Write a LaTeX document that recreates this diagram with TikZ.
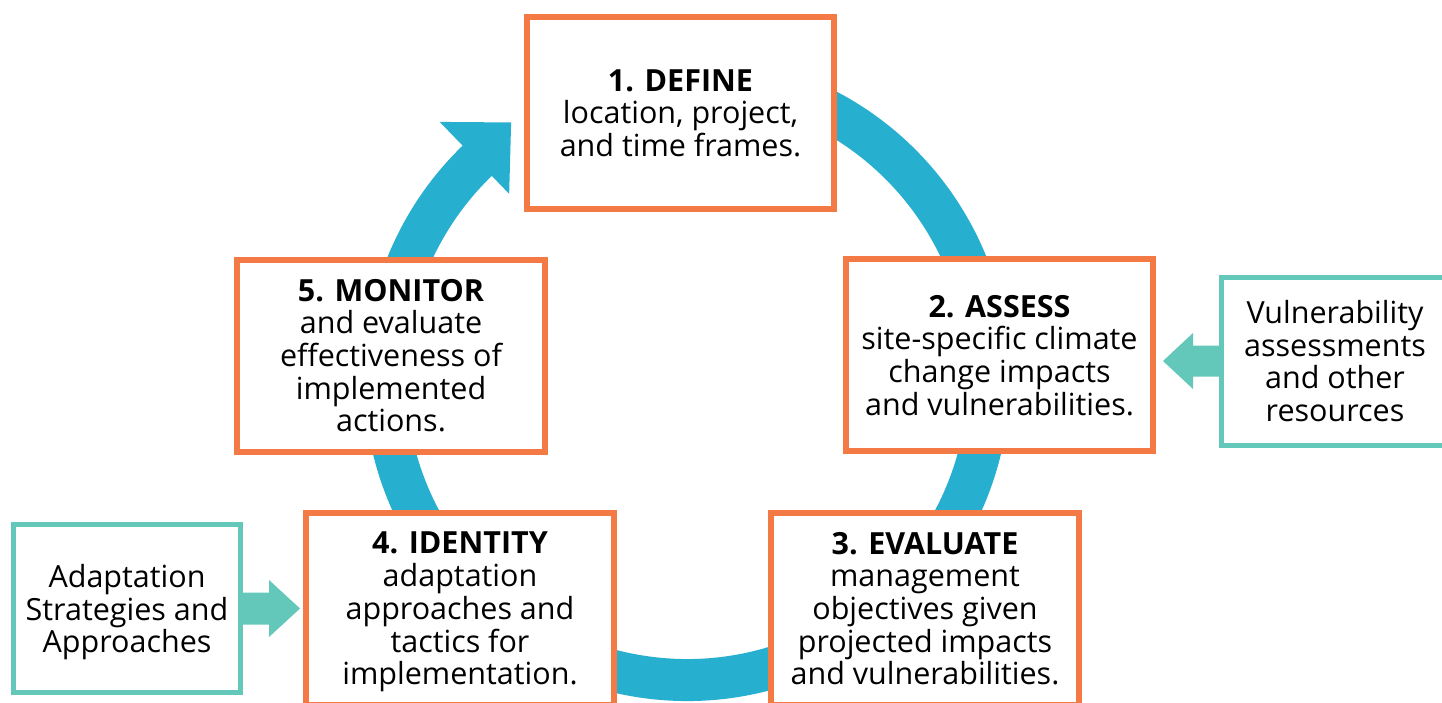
\documentclass[tikz,border=0pt]{standalone}
\usepackage{fontspec}
\setmainfont{Open Sans}
\usetikzlibrary{calc}
\definecolor{boxorange}{HTML}{F37A44}
\definecolor{ringblue}{HTML}{26AFCF}
\definecolor{inputteal}{HTML}{63C7B9}

\begin{document}
\begin{tikzpicture}[x=1pt,y=-1pt,
  txt/.style={align=center, font=\fontsize{30.5}{32.7}\selectfont, text depth=0pt, inner sep=0pt},
  stepbox/.style={txt, draw=boxorange, line width=6pt, fill=white,
    minimum width=307.5pt, minimum height=192pt},
  inbox/.style={txt, draw=inputteal, line width=5pt, fill=white,
    minimum width=227pt, minimum height=168pt},
  ring/.style={draw=ringblue, line width=42pt},
  tealarrow/.style={fill=inputteal}]

\useasboundingbox (0,0) rectangle (1442,702);
\clip (0,0) rectangle (1442,702);
\fill[white] (0,0) rectangle (1442,702);

% the cycle ring behind the five steps, ending in an arrowhead
\coordinate (c) at (687,378);
\draw[ring] (c) ++(-80:302) arc[start angle=-80, end angle=227, radius=302];
\coordinate (re) at ($(c)+(226:306)$);
\fill[ringblue] ($(re)+(226:50)$) -- ($(re)+(316:51)$) -- ($(re)+(46:50)$) -- cycle;

% the five steps
\node[stepbox] (define) at (680.5,113)
  {\textbf{1. DEFINE}\\location, project,\\and time frames.};
\node[stepbox] (assess) at (999.5,355)
  {\textbf{2. ASSESS}\\site-specific climate\\change impacts\\and vulnerabilities.};
\node[stepbox] (evaluate) at (925,608.5)
  {\textbf{3. EVALUATE}\\management\\objectives given\\projected impacts\\and vulnerabilities.};
\node[stepbox] (identify) at (460,608.5)
  {\textbf{4. IDENTITY}\\adaptation\\approaches and\\tactics for\\implementation.};
\node[stepbox] (monitor) at (391,355.5)
  {\textbf{5. MONITOR}\\and evaluate\\effectiveness of\\implemented\\actions.};

% outside inputs
\node[inbox] (vuln) at (1335,361)
  {Vulnerability\\assessments\\and other\\resources};
\node[inbox] (strat) at (127,608.5)
  {Adaptation\\Strategies and\\Approaches};

% block arrows from the inputs into their steps
\fill[tealarrow] (vuln.west) ++(0,-15.5) -- ++(-26,0) -- ++(0,-12.5)
  -- ++(-30,28) -- ++(30,28) -- ++(0,-12.5) -- ++(26,0) -- cycle;
\fill[tealarrow] (strat.east) ++(0,-16) -- ++(26,0) -- ++(0,-12.5)
  -- ++(31,28.5) -- ++(-31,28.5) -- ++(0,-12.5) -- ++(-26,0) -- cycle;
\end{tikzpicture}
\end{document}
